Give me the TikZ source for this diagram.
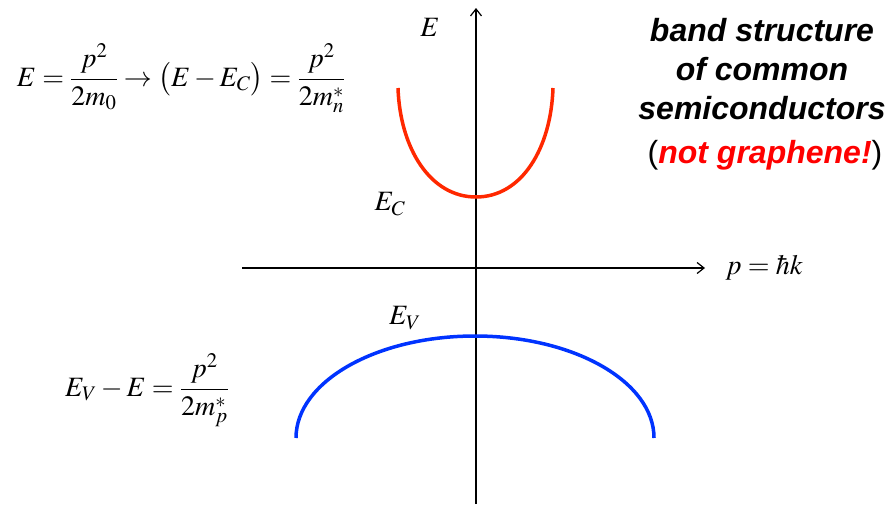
\documentclass[tikz,border=0pt]{standalone}
\usepackage{amsmath}
\usepackage{mathptmx}
\usepackage{fontspec}
\setmainfont{Liberation Serif}
\newfontfamily\titlefont{Liberation Sans}
\usetikzlibrary{arrows.meta}

\definecolor{bandred}{RGB}{255,40,0}
\definecolor{bandblue}{RGB}{0,51,255}

\begin{document}
\begin{tikzpicture}[x=1pt, y=-1pt,
    axis/.style={line width=1.2pt, -{Straight Barb[length=7pt, width=11pt, line width=1.2pt]}},
    band/.style={line width=3.5pt},
    eqn/.style={font=\fontsize{28}{32}\selectfont},
    heading/.style={font=\titlefont\bfseries\itshape\fontsize{32}{39}\selectfont, align=center}]
    \useasboundingbox (0,0) rectangle (893,504);

    % Axes
    \coordinate (ebot) at (476,504);
    \coordinate (etop) at (476,8);
    \coordinate (pleft) at (242,268);
    \coordinate (pright) at (705,268);
    \draw[axis] (ebot) -- (etop);
    \draw[axis] (pleft) -- (pright);
    \node[eqn] (elabel) at (430,27) {$E$};
    \node[eqn, anchor=west] (plabel) at (722,268) {$p=\hbar k$};

    % Conduction band
    \coordinate (cleft) at (398,88);
    \coordinate (cmin) at (476,197);
    \coordinate (cright) at (553,88);
    \draw[band, bandred] (cleft) .. controls (400,148) and (430,197) .. (cmin)
        .. controls (522,197) and (551,148) .. (cright);
    \node[eqn] (eclabel) at (390,204) {$E_C$};

    % Valence band
    \draw[band, bandblue] (296,438) arc[start angle=180, end angle=360, x radius=179, y radius=102];
    \node[eqn] (evlabel) at (405,318) {$E_V$};

    % Dispersion relations
    \node[eqn] (condeq) at (181,78)
        {$E=\dfrac{p^2}{2m_0}\rightarrow\bigl(E-E_C\bigr)=\dfrac{p^2}{2m_n^*}$};
    \node[eqn] (valeq) at (147,390) {$E_V-E=\dfrac{p^2}{2m_p^*}$};

    % Title
    \node[heading] (title) at (762,69) {band structure\\of common\\semiconductors};
    \node[heading] (note) at (765,155)
        {\textup{\mdseries(}\textcolor{red}{not graphene!}\textup{\mdseries)}};
\end{tikzpicture}
\end{document}
